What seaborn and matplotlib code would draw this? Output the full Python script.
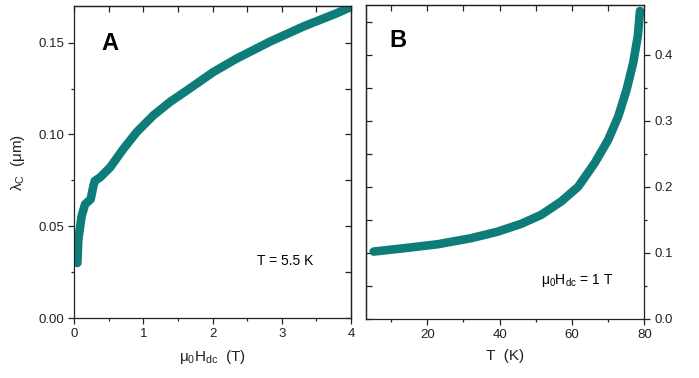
import numpy as np
import pandas as pd
import seaborn as sns
import matplotlib.pyplot as plt
from matplotlib.ticker import MultipleLocator

# panel A: penetration depth vs field at T = 5.5 K
field_A = [0.048, 0.062, 0.11, 0.16, 0.24, 0.28, 0.30, 0.375, 0.52, 0.71, 0.905,
           1.145, 1.385, 1.63, 2.01, 2.35, 2.83, 3.31, 3.79, 3.98]
lam_A = [0.030, 0.0428, 0.0556, 0.062, 0.0647, 0.072, 0.0747, 0.0766, 0.082, 0.092,
         0.1013, 0.1104, 0.1177, 0.124, 0.134, 0.1414, 0.1506, 0.1588, 0.166, 0.1692]

# panel B: penetration depth vs temperature at 1 T
temp_B = [5.2, 13.5, 22.8, 32.1, 39.4, 46.0, 51.5, 57.0, 61.7, 66.3, 70.0, 72.8,
          75.1, 76.9, 78.2, 78.8]
lam_B = [0.102, 0.107, 0.113, 0.1222, 0.132, 0.144, 0.1576, 0.1777, 0.200, 0.236,
         0.271, 0.3065, 0.347, 0.387, 0.428, 0.466]

teal = '#0e7d7a'
ink = '#222222'

sns.set_style('ticks')
plt.rcParams['font.family'] = ['Liberation Sans', 'DejaVu Sans']
plt.rcParams['mathtext.fontset'] = 'custom'
plt.rcParams['mathtext.rm'] = 'Liberation Sans'
plt.rcParams['mathtext.it'] = 'Liberation Sans:italic'
plt.rcParams['mathtext.default'] = 'regular'
plt.rcParams['axes.edgecolor'] = ink
plt.rcParams['axes.linewidth'] = 0.9

fig = plt.figure(figsize=(6.99, 3.78), dpi=100)
axA = fig.add_axes([0.1059, 0.1587, 0.3963, 0.8254])
axB = fig.add_axes([0.5232, 0.1561, 0.3986, 0.8307])

dfA = pd.DataFrame({'H': field_A, 'lam': lam_A})
dfB = pd.DataFrame({'T': temp_B, 'lam': lam_B})

sns.lineplot(data=dfA, x='H', y='lam', ax=axA, sort=False, color=teal, lw=6.2,
             solid_capstyle='round', solid_joinstyle='round')
sns.lineplot(data=dfB, x='T', y='lam', ax=axB, sort=False, color=teal, lw=6.2,
             solid_capstyle='round', solid_joinstyle='round')


def style_ticks(ax, xmaj, xmin, ymaj, ymin, yside):
    ax.xaxis.set_major_locator(MultipleLocator(xmaj))
    ax.xaxis.set_minor_locator(MultipleLocator(xmin))
    ax.yaxis.set_major_locator(MultipleLocator(ymaj))
    ax.yaxis.set_minor_locator(MultipleLocator(ymin))
    ax.tick_params(which='major', direction='out', length=4, width=0.9,
                   labelsize=9.5, labelcolor=ink, color=ink, pad=3)
    ax.tick_params(which='minor', direction='out', length=2.2, width=0.9, color=ink)
    other = 'right' if yside == 'left' else 'left'
    top = ax.secondary_xaxis('top')
    top.xaxis.set_major_locator(MultipleLocator(xmaj))
    top.xaxis.set_minor_locator(MultipleLocator(xmin))
    top.tick_params(which='both', direction='in', labeltop=False, color=ink, width=0.9)
    top.tick_params(which='major', length=4)
    top.tick_params(which='minor', length=4)
    sec = ax.secondary_yaxis(other)
    sec.yaxis.set_major_locator(MultipleLocator(ymaj))
    sec.yaxis.set_minor_locator(MultipleLocator(ymin))
    sec.tick_params(which='both', direction='in', labelleft=False, labelright=False,
                    color=ink, width=0.9, length=4)


axA.set_xlim(0, 4)
axA.set_ylim(0, 0.17)
style_ticks(axA, 1, 0.5, 0.05, 0.025, 'left')
axA.yaxis.set_major_formatter(lambda v, p: f'{v:.2f}')
axA.set_xlabel(r'$\mu_0H_{dc}$  (T)', fontsize=11, color=ink, labelpad=6)
axA.set_ylabel(r'$\lambda_C$  ($\mu$m)', fontsize=11, color=ink, labelpad=8)
axA.text(0.10, 0.86, 'A', transform=axA.transAxes, fontsize=17, fontweight='bold',
         color='black')
axA.text(0.66, 0.17, 'T = 5.5 K', transform=axA.transAxes, fontsize=10, color='black')

axB.set_xlim(3, 80)
axB.set_ylim(0, 0.475)
axB.yaxis.tick_right()
style_ticks(axB, 20, 10, 0.1, 0.05, 'right')
axB.tick_params(axis='y', which='both', left=False, right=True, labelright=True,
                labelleft=False)
axB.yaxis.set_major_formatter(lambda v, p: f'{v:.1f}')
axB.set_xlabel('T  (K)', fontsize=11, color=ink, labelpad=6)
axB.set_ylabel('')
axB.text(0.085, 0.865, 'B', transform=axB.transAxes, fontsize=17, fontweight='bold',
         color='black')
axB.text(0.63, 0.11, r'$\mu_0H_{dc}$ = 1 T', transform=axB.transAxes, fontsize=10,
         color='black')

for ax in (axA, axB):
    for s in ax.spines.values():
        s.set_visible(True)

fig.savefig('out.png', dpi=100)
